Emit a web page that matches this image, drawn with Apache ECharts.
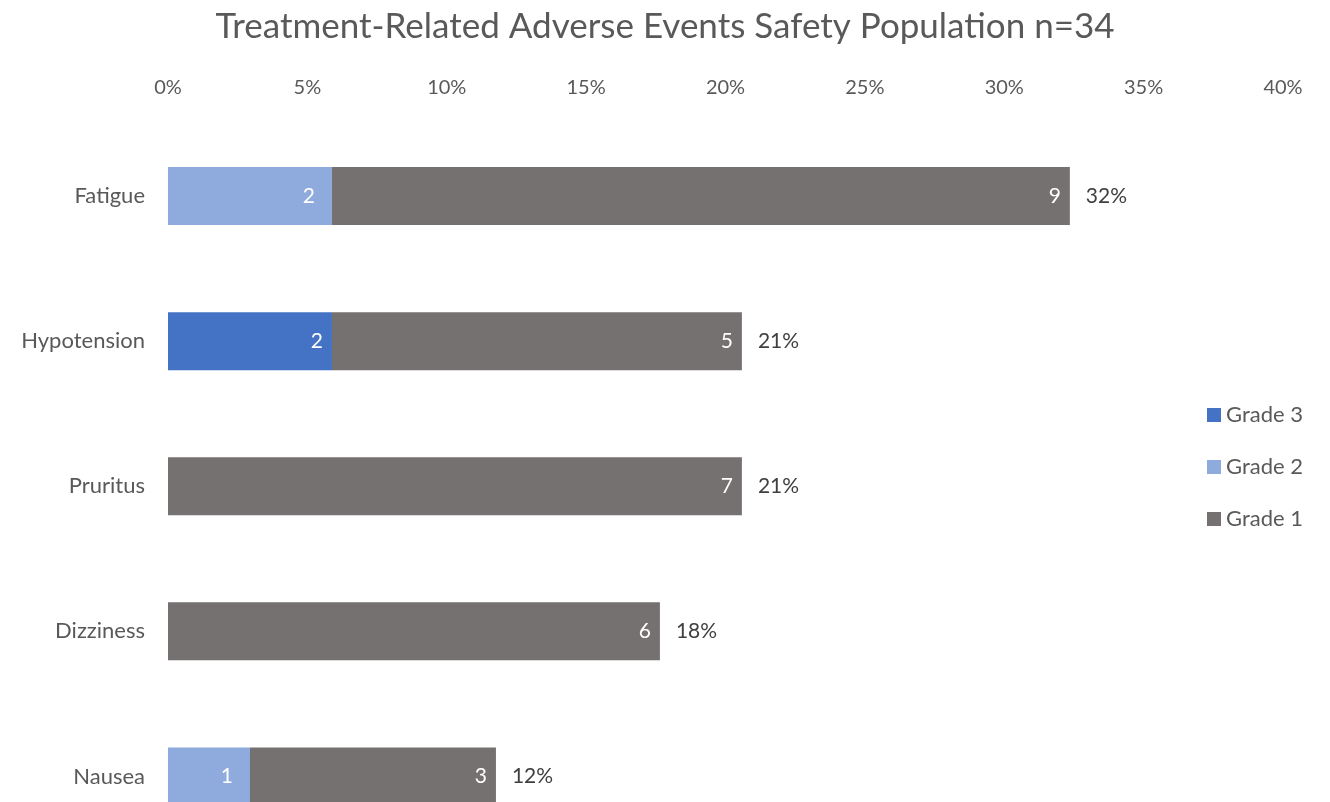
<!DOCTYPE html>
<html>
<head>
<meta charset="utf-8">
<style>
  html, body { margin: 0; padding: 0; background: #fff; overflow: hidden; }
  #chart { width: 1330px; height: 849px; }
</style>
<script src="https://cdn.jsdelivr.net/npm/echarts@6/dist/echarts.min.js"></script>
</head>
<body>
<div id="chart"></div>
<script>
// Safety population size
const populationN = 34;

// Adverse events, top to bottom
const categories = ['Fatigue', 'Hypotension', 'Pruritus', 'Dizziness', 'Nausea'];

// Patient counts per grade
const grade1Counts = [9, 5, 7, 6, 3];
const grade2Counts = [2, 0, 0, 0, 1];
const grade3Counts = [0, 2, 0, 0, 0];

// Axis ticks (percent)
const tickValues = [0, 5, 10, 15, 20, 25, 30, 35, 40];

const FONT = 'Lato';
const toPct = c => c / populationN * 100;
const totals = categories.map((_, i) => grade1Counts[i] + grade2Counts[i] + grade3Counts[i]);

function insideLabel(distance) {
  return {
    show: true,
    position: 'insideRight',
    color: '#ffffff',
    fontFamily: FONT,
    fontSize: 21,
    distance: distance,
    formatter: p => p.data.count > 0 ? String(p.data.count) : ''
  };
}

function gradeData(counts) {
  return counts.map(c => ({ value: toPct(c), count: c }));
}

const chart = echarts.init(document.getElementById('chart'));
chart.setOption({
  animation: false,
  backgroundColor: '#ffffff',
  title: {
    text: 'Treatment-Related Adverse Events Safety Population n=34',
    left: 'center',
    top: 4,
    textStyle: { fontFamily: FONT, fontSize: 35, fontWeight: 'normal', color: '#595959' }
  },
  legend: {
    orient: 'vertical',
    left: 1207,
    top: 404,
    padding: 0,
    itemWidth: 14,
    itemHeight: 14,
    itemGap: 30,
    icon: 'rect',
    data: ['Grade 3', 'Grade 2', 'Grade 1'],
    textStyle: { fontFamily: FONT, fontSize: 22, color: '#595959' }
  },
  grid: { left: 168, right: 47, top: 123.5, bottom: 0, containLabel: false },
  xAxis: {
    type: 'value',
    position: 'top',
    min: 0,
    max: 40,
    interval: 5,
    axisLine: { show: false },
    axisTick: { show: false },
    splitLine: { show: false },
    axisLabel: {
      fontFamily: FONT, fontSize: 20, color: '#595959', margin: 26,
      formatter: v => tickValues.includes(v) ? v + '%' : ''
    }
  },
  yAxis: {
    type: 'category',
    inverse: true,
    data: categories,
    axisLine: { show: false },
    axisTick: { show: false },
    axisLabel: { fontFamily: FONT, fontSize: 22, color: '#595959', margin: 23 }
  },
  series: [
    {
      name: 'Grade 3', type: 'bar', stack: 'ae', barWidth: 58,
      itemStyle: { color: '#4472C4' },
      label: insideLabel(9),
      data: gradeData(grade3Counts)
    },
    {
      name: 'Grade 2', type: 'bar', stack: 'ae',
      itemStyle: { color: '#8FAADC' },
      label: insideLabel(17),
      data: gradeData(grade2Counts)
    },
    {
      name: 'Grade 1', type: 'bar', stack: 'ae',
      itemStyle: { color: '#767171' },
      label: insideLabel(9),
      data: gradeData(grade1Counts)
    },
    {
      // zero-width cap carrying the total percentage label
      name: 'Total', type: 'bar', stack: 'ae',
      itemStyle: { color: 'transparent' },
      label: {
        show: true, position: 'right', distance: 16,
        color: '#404040', fontFamily: FONT, fontSize: 21,
        formatter: p => Math.round(toPct(totals[p.dataIndex])) + '%'
      },
      data: totals.map(() => 0)
    }
  ]
});
</script>
</body>
</html>
